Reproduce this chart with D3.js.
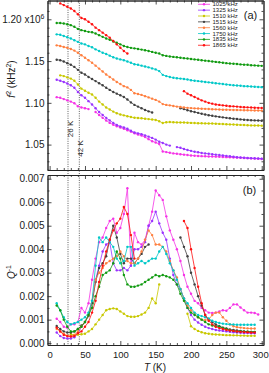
<!DOCTYPE html>
<html>
<head>
<meta charset="utf-8">
<script src="https://cdn.jsdelivr.net/npm/d3@7"></script>
<style>
  body { margin: 0; background: #fff; }
  text { font-family: "Liberation Sans", Arial, sans-serif; fill: #1a1a1a; }
</style>
</head>
<body>
<div id="chart"></div>
<script>
// series labels and colours
var freqs = ["1025 kHz", "1325 kHz", "1510 kHz", "1515 kHz", "1560 kHz", "1750 kHz", "1835 kHz", "1865 kHz"];
var colors = ["#f533e6", "#9933ff", "#c8c800", "#404040", "#ff7f3f", "#00c8c8", "#109a10", "#ff1010"];

// temperatures (K) for panel (a)
var tempA = [10,15,20,25,30,35,40,45,50,55,
             60,65,70,75,80,85,90,95,100,105,
             110,115,120,125,130,135,140,145,150,155,
             160,165,170,175,180,185,190,195,200,205,
             210,215,220,225,230,235,240,245,250,255,
             260,265,270,275,280,285,290,295,300];

// f^2 in units of 1e6 kHz^2
var f1025 = [1.1068,1.1060,1.1045,1.1030,1.1015,1.0995,1.0960,1.0945,1.0935,1.0925,
             null,1.0890,1.0855,1.0820,1.0789,1.0760,1.0738,1.0720,1.0705,1.0690,
             1.0672,1.0655,1.0635,1.0620,1.0608,1.0590,1.0565,1.0540,1.0525,1.0508,
             1.0418,1.0410,1.0402,1.0395,1.0390,1.0385,1.0380,1.0375,1.0370,1.0367,
             1.0364,1.0362,1.0360,1.0358,1.0357,1.0356,1.0354,1.0352,1.0350,1.0348,
             1.0346,1.0344,1.0342,1.0340,1.0338,1.0335,1.0332,1.0330,1.0328];
var f1325 = [1.1277,1.1265,1.1250,1.1232,1.1210,1.1180,1.1130,1.1090,1.1060,1.1020,
             1.0980,1.0935,1.0890,1.0855,1.0820,1.0790,1.0760,1.0735,1.0718,1.0705,
             1.0690,1.0665,1.0645,1.0635,1.0625,1.0610,1.0595,1.0580,1.0560,1.0535,
             1.0520,1.0500,1.0488,null,1.0470,1.0462,1.0448,1.0435,1.0425,1.0415,
             1.0408,1.0400,1.0395,1.0390,1.0385,1.0380,1.0375,1.0370,1.0365,1.0360,
             1.0355,1.0350,1.0346,1.0343,1.0340,1.0338,1.0336,1.0334,1.0332];
var f1510 = [null,1.1329,1.1320,1.1305,1.1290,1.1265,1.1220,1.1170,1.1145,1.1120,
             1.1100,1.1060,1.1015,1.0980,1.0945,1.0920,1.0895,1.0875,1.0860,1.0850,
             1.0840,1.0830,1.0822,1.0818,1.0815,1.0810,1.0805,1.0800,1.0795,1.0780,
             1.0758,1.0768,1.0770,1.0768,1.0766,1.0765,1.0764,1.0762,1.0760,1.0758,
             1.0756,1.0755,1.0754,1.0753,1.0752,1.0750,1.0748,1.0746,1.0744,1.0742,
             1.0740,1.0738,1.0736,1.0734,1.0732,1.0730,1.0729,1.0728,1.0727];
var f1515 = [1.1516,1.1510,1.1495,1.1475,1.1455,1.1430,1.1395,1.1360,1.1340,1.1310,
             1.1285,1.1260,1.1235,1.1210,1.1180,1.1155,1.1130,1.1110,1.1090,1.1070,
             1.1040,1.1005,1.0975,1.0955,1.0935,1.0915,1.0898,1.0885,null,null,
             null,null,null,null,null,1.0935,1.0925,1.0912,1.0900,1.0890,
             1.0880,1.0870,1.0860,1.0852,1.0845,1.0838,1.0832,1.0826,1.0820,1.0815,
             1.0810,1.0806,1.0802,1.0798,1.0795,1.0792,1.0790,1.0788,1.0786];
var f1560 = [1.1688,1.1680,1.1668,1.1660,1.1645,1.1625,1.1600,1.1570,1.1540,1.1510,
             1.1480,1.1445,1.1410,1.1375,1.1340,1.1310,1.1280,1.1250,1.1225,1.1200,
             1.1185,1.1155,1.1115,1.1105,1.1095,1.1080,1.1065,1.1050,1.1035,1.1015,
             1.0985,1.0975,1.0970,1.0962,1.0955,1.0950,1.0945,1.0940,1.0937,1.0934,
             1.0932,1.0930,1.0928,1.0926,1.0924,1.0922,1.0920,1.0918,1.0917,1.0916,
             1.0915,1.0914,1.0913,1.0912,1.0911,1.0910,1.0909,1.0908,1.0907];
var f1750 = [1.1820,1.1815,1.1800,1.1785,1.1770,1.1750,1.1730,1.1710,1.1700,1.1680,
             1.1665,1.1640,1.1620,1.1600,1.1585,1.1565,1.1545,1.1530,1.1520,1.1510,
             1.1495,1.1480,1.1462,1.1455,1.1445,1.1435,1.1425,1.1412,1.1400,1.1380,
             1.1335,1.1320,1.1310,1.1300,1.1295,1.1290,1.1285,1.1280,1.1270,1.1265,
             1.1260,1.1255,1.1250,1.1245,1.1240,1.1235,1.1230,1.1225,1.1220,1.1215,
             1.1210,1.1207,1.1205,1.1200,1.1198,1.1195,1.1192,1.1190,1.1188];
var f1835 = [1.1956,1.1955,1.1950,1.1940,1.1930,1.1910,1.1885,1.1870,1.1860,1.1850,
             1.1845,1.1830,1.1810,1.1790,1.1770,1.1755,1.1735,1.1720,1.1700,1.1680,
             1.1668,1.1658,1.1652,1.1645,1.1637,1.1630,1.1620,1.1610,1.1600,1.1590,
             1.1570,1.1562,1.1555,1.1550,1.1545,1.1540,1.1535,1.1530,1.1525,1.1520,
             1.1515,1.1510,1.1505,1.1500,1.1495,1.1490,1.1485,1.1480,1.1475,1.1470,
             1.1468,1.1465,1.1460,1.1457,1.1455,1.1450,1.1448,1.1445,1.1443];
var f1865 = [null,1.2190,1.2170,1.2150,1.2130,1.2100,1.2060,1.2015,1.2000,1.1970,
             1.1940,1.1900,1.1870,1.1840,1.1810,1.1780,1.1740,1.1700,1.1660,1.1620,
             1.1590,null,null,null,null,null,null,null,null,null,
             null,null,null,null,null,null,1.1140,1.1110,1.1090,1.1070,
             1.1050,1.1030,1.1015,1.1000,1.0990,1.0980,1.0975,1.0970,1.0965,1.0960,
             1.0958,1.0955,1.0950,1.0948,1.0946,1.0944,1.0942,1.0940,1.0938];

// temperatures (K) for panel (b)
var tempB = [10,15,20,25,30,35,40,45,50,55,
             60,65,70,75,80,85,90,95,100,105,
             110,115,120,125,130,135,140,145,150,155,
             160,165,170,175,180,185,190,195,200,205,
             210,215,220,225,230,235,240,245,250,255,
             260,265,270,275,280,285,290,295];

// internal friction Q^-1
var q1025 = [0.00104,0.00090,0.00070,0.00065,0.00080,0.00080,0.00090,0.00150,0.00130,0.00170,
             0.00270,0.00360,0.00430,0.00450,0.00490,0.00520,0.00530,0.00470,0.00490,0.00550,
             0.00660,0.00330,0.00470,0.00430,0.00420,0.00440,0.00500,0.00560,0.00650,0.00630,
             0.00610,0.00540,0.00480,0.00440,0.00400,0.00350,0.00290,0.00240,0.00210,0.00180,
             0.00170,0.00150,0.00140,0.00130,0.00128,0.00130,0.00135,0.00140,0.00138,0.00150,
             0.00165,0.00165,0.00152,0.00140,0.00130,0.00130,0.00128,0.00122];
var q1325 = [0.00045,0.00030,0.00022,0.00020,0.00020,0.00025,0.00040,0.00070,0.00090,0.00120,
             0.00180,0.00270,0.00330,0.00390,0.00420,0.00430,0.00340,0.00310,0.00310,0.00320,
             0.00310,0.00330,0.00400,0.00400,0.00410,0.00430,0.00500,0.00520,0.00560,0.00510,
             0.00470,0.00440,0.00360,0.00290,0.00250,0.00230,0.00190,0.00150,0.00120,0.00100,
             0.00088,0.00078,0.00070,0.00064,0.00060,0.00056,0.00054,0.00052,0.00050,0.00048,
             0.00046,0.00045,0.00044,0.00043,0.00043,0.00042,0.00042,null];
var q1510 = [null,null,null,null,0.00038,0.00035,0.00036,0.00038,0.00040,0.00050,
             0.00060,0.00080,0.00100,0.00120,0.00140,0.00145,0.00148,0.00145,0.00135,0.00125,
             0.00115,0.00112,0.00112,0.00115,0.00122,0.00130,0.00150,0.00190,0.00170,0.00250,
             null,null,null,null,null,null,null,0.00125,0.00072,0.00060,
             0.00052,0.00046,0.00042,0.00040,0.00038,0.00037,0.00036,0.00035,0.00034,0.00034,
             0.00033,0.00033,0.00032,0.00032,0.00031,0.00031,0.00031,null];
var q1515 = [0.00073,0.00060,0.00050,0.00045,0.00045,0.00050,0.00060,0.00075,0.00090,0.00115,
             0.00170,0.00260,0.00320,0.00340,0.00370,0.00440,0.00500,0.00450,0.00380,0.00340,
             0.00360,0.00360,0.00340,0.00360,0.00380,0.00410,0.00420,null,null,null,
             null,null,null,null,null,0.00450,0.00410,0.00370,0.00300,0.00250,
             0.00200,0.00160,0.00120,0.00100,0.00090,0.00080,0.00072,0.00066,0.00062,0.00058,
             0.00056,0.00054,0.00052,0.00050,0.00049,0.00048,0.00047,null];
var q1560 = [0.00060,0.00050,0.00040,0.00032,0.00030,0.00035,0.00050,0.00070,0.00090,0.00120,
             0.00180,0.00270,0.00300,0.00320,0.00340,0.00350,0.00360,0.00370,0.00390,0.00370,
             0.00350,0.00340,0.00340,0.00360,0.00390,0.00440,0.00480,0.00460,0.00420,0.00420,
             0.00410,0.00390,0.00350,0.00310,0.00280,0.00230,0.00190,0.00160,0.00140,0.00125,
             0.00110,0.00100,0.00098,0.00100,0.00120,0.00130,0.00130,0.00110,0.00095,0.00080,
             0.00072,0.00068,0.00066,0.00064,0.00063,0.00062,0.00062,null];
var q1750 = [0.00170,0.00140,0.00110,0.00090,0.00080,0.00085,0.00090,0.00100,0.00110,0.00130,
             0.00180,0.00330,0.00450,0.00430,0.00450,0.00430,0.00410,0.00360,0.00340,0.00350,
             0.00410,0.00410,0.00330,0.00340,0.00350,0.00340,0.00350,0.00360,0.00360,0.00390,
             0.00410,0.00380,0.00340,0.00310,0.00270,0.00230,0.00190,0.00170,0.00150,0.00130,
             0.00120,0.00115,0.00110,0.00105,0.00095,0.00090,0.00086,0.00083,0.00081,0.00080,
             0.00079,0.00078,0.00078,0.00078,0.00078,0.00078,0.00078,null];
var q1835 = [0.00160,0.00140,0.00100,0.00070,0.00050,0.00050,0.00060,0.00070,0.00090,0.00120,
             0.00150,0.00200,0.00240,0.00290,0.00300,0.00310,0.00340,0.00390,0.00360,0.00290,
             0.00250,0.00240,0.00240,0.00245,0.00250,0.00260,0.00270,0.00280,0.00290,0.00285,
             0.00290,0.00285,0.00280,0.00270,0.00250,0.00210,0.00180,0.00150,0.00130,0.00120,
             0.00110,0.00100,0.00090,0.00080,0.00075,0.00072,0.00070,0.00065,0.00060,0.00055,
             0.00052,0.00050,0.00050,0.00049,0.00049,0.00048,0.00048,null];
var q1865 = [0.00066,0.00050,0.00035,0.00030,0.00028,0.00030,0.00042,0.00050,0.00070,0.00090,
             0.00130,0.00180,0.00260,0.00330,0.00390,0.00440,0.00480,0.00510,0.00530,0.00580,
             0.00550,0.00460,0.00360,null,null,null,null,null,null,null,
             null,null,null,null,null,null,0.00520,0.00490,0.00400,0.00320,
             0.00240,0.00170,0.00120,0.00095,0.00080,0.00070,0.00064,0.00060,0.00056,0.00054,
             0.00052,0.00050,0.00048,0.00047,0.00046,0.00045,0.00045,null];

// tick values
var xTicks = [0, 50, 100, 150, 200, 250, 300];
var fTicks = [1.05, 1.10, 1.15, 1.20];
var qTicks = [0, 0.001, 0.002, 0.003, 0.004, 0.005, 0.006, 0.007];
var markT = [26, 42];

var fSeries = [f1025, f1325, f1510, f1515, f1560, f1750, f1835, f1865];
var qSeries = [q1025, q1325, q1510, q1515, q1560, q1750, q1835, q1865];

var W = 269, H = 373;
var left = 47.5, right = 263.5;
var aTop = 0.5, aBot = 170, bTop = 175, bBot = 345;

var svg = d3.select("#chart").append("svg")
    .attr("width", W)
    .attr("height", H);

var x = d3.scaleLinear().domain([-3, 302.5]).range([left, right]);
var yA = d3.scaleLinear().domain([1.0196, 1.2225]).range([aBot, aTop]);
var yB = d3.scaleLinear().domain([-0.00008, 0.00716]).range([bBot, bTop]);

var xMinor = d3.range(0, 301, 10).filter(d => d % 50 !== 0);
var fMinor = d3.range(1.02, 1.225, 0.01).filter(d => Math.abs(d * 20 - Math.round(d * 20)) > 1e-6);
var qMinor = d3.range(0.0005, 0.0071, 0.001);

// frame with inward ticks
function drawFrame(y, top, bot, major, minor, fmt, showX) {
    var g = svg.append("g").attr("class", "frame");
    function ax(axis, tr) {
        var a = g.append("g").attr("transform", tr).call(axis);
        a.selectAll("path.domain").attr("stroke", "#222").attr("stroke-width", 0.9);
        a.selectAll("line").attr("stroke", "#222").attr("stroke-width", 0.8);
        a.selectAll("text").style("font-size", "10px").attr("fill", "#1a1a1a")
            .style("font-family", "'Liberation Sans', Arial, sans-serif");
        return a;
    }
    // left
    var la = ax(d3.axisLeft(y).tickValues(major).tickSize(-4).tickSizeOuter(0).tickPadding(3).tickFormat(fmt),
        "translate(" + left + ",0)");
    ax(d3.axisLeft(y).tickValues(minor).tickSize(-2).tickSizeOuter(0).tickFormat(""), "translate(" + left + ",0)");
    // right
    ax(d3.axisRight(y).tickValues(major).tickSize(-4).tickSizeOuter(0).tickFormat(""), "translate(" + right + ",0)");
    ax(d3.axisRight(y).tickValues(minor).tickSize(-2).tickSizeOuter(0).tickFormat(""), "translate(" + right + ",0)");
    // bottom
    var ba = ax(d3.axisBottom(x).tickValues(xTicks).tickSize(-4).tickSizeOuter(0).tickPadding(6)
        .tickFormat(showX ? d3.format("d") : ""), "translate(0," + bot + ")");
    ba.selectAll("text").style("font-size", "9.5px");
    ba.selectAll("text").filter(d => d === 300).attr("dx", -1.5);
    ax(d3.axisBottom(x).tickValues(xMinor).tickSize(-2).tickSizeOuter(0).tickFormat(""), "translate(0," + bot + ")");
    // top
    ax(d3.axisTop(x).tickValues(xTicks).tickSize(-4).tickSizeOuter(0).tickFormat(""), "translate(0," + top + ")");
    ax(d3.axisTop(x).tickValues(xMinor).tickSize(-2).tickSizeOuter(0).tickFormat(""), "translate(0," + top + ")");
    return la;
}

var laA = drawFrame(yA, aTop, aBot, fTicks, fMinor,
    d => Math.abs(d - 1.2) < 1e-9 ? "1.20 x10" : d3.format(".2f")(d), false);
laA.selectAll("text").filter(d => Math.abs(d - 1.2) < 1e-9)
    .append("tspan").attr("dy", -4).style("font-size", "7px").text("6");

drawFrame(yB, bTop, bBot, qTicks, qMinor, d3.format(".3f"), true);

// dotted lines at 26 K and 42 K
svg.selectAll("line.mark")
    .data(markT)
    .enter()
    .append("line")
    .attr("class", "mark")
    .attr("x1", d => x(d)).attr("x2", d => x(d))
    .attr("y1", aTop).attr("y2", bBot)
    .attr("stroke", "#333")
    .attr("stroke-width", 0.8)
    .attr("stroke-dasharray", "1,1.3");

svg.append("text")
    .attr("transform", "translate(" + (x(26) + 4.8) + ",129) rotate(-90)")
    .attr("text-anchor", "middle")
    .style("font-size", "8px")
    .text("26 K");
svg.append("text")
    .attr("transform", "translate(" + (x(42) + 4) + ",148.5) rotate(-90)")
    .attr("text-anchor", "middle")
    .style("font-size", "8px")
    .text("42 K");

// draw series
function drawSeries(temps, arrays, y) {
    var g = svg.append("g");
    arrays.forEach((arr, i) => {
        var pts = temps.map((t, j) => ({t: t, v: arr[j]}));
        var line = d3.line()
            .defined(d => d.v != null)
            .x(d => x(d.t))
            .y(d => y(d.v));
        g.append("path")
            .datum(pts)
            .attr("d", line)
            .attr("fill", "none")
            .attr("stroke", colors[i])
            .attr("stroke-width", 0.8);
        g.selectAll("circle.s" + i)
            .data(pts.filter(d => d.v != null))
            .enter()
            .append("circle")
            .attr("class", "s" + i)
            .attr("cx", d => x(d.t))
            .attr("cy", d => y(d.v))
            .attr("r", 1.2)
            .attr("fill", colors[i]);
    });
}

drawSeries(tempA, fSeries, yA);
drawSeries(tempB, qSeries, yB);

// legend
var legend = svg.append("g").attr("transform", "translate(198,4.3)");
freqs.forEach((f, i) => {
    legend.append("line")
        .attr("x1", 0).attr("x2", 12)
        .attr("y1", i * 5.85).attr("y2", i * 5.85)
        .attr("stroke", colors[i]).attr("stroke-width", 0.8);
    legend.append("circle")
        .attr("cx", 6).attr("cy", i * 5.85).attr("r", 1.2)
        .attr("fill", colors[i]);
    legend.append("text")
        .attr("x", 14.5)
        .attr("y", i * 5.85 + 2)
        .style("font-size", "6px")
        .text(f);
});

// panel labels
svg.append("text").attr("x", 250.5).attr("y", 18.5).attr("text-anchor", "middle")
    .style("font-size", "11px").text("(a)");
svg.append("text").attr("x", 249.5).attr("y", 194).attr("text-anchor", "middle")
    .style("font-size", "11px").text("(b)");

// axis titles
var ta = svg.append("text")
    .attr("transform", "translate(14.5,79) rotate(-90)")
    .attr("text-anchor", "middle")
    .style("font-size", "10px");
ta.append("tspan").style("font-style", "italic").text("f");
ta.append("tspan").attr("dy", -4).style("font-size", "7px").text("2");
ta.append("tspan").attr("dy", 4).text(" (kHz");
ta.append("tspan").attr("dy", -4).style("font-size", "7px").text("2");
ta.append("tspan").attr("dy", 4).text(")");

var tb = svg.append("text")
    .attr("transform", "translate(14.5,272) rotate(-90)")
    .attr("text-anchor", "middle")
    .style("font-size", "10px");
tb.append("tspan").style("font-style", "italic").text("Q");
tb.append("tspan").attr("dy", -4).style("font-size", "7px").text("-1");

var tx = svg.append("text")
    .attr("x", 155).attr("y", 371)
    .attr("text-anchor", "middle")
    .style("font-size", "10px");
tx.append("tspan").style("font-style", "italic").text("T");
tx.append("tspan").text("  (K)");
</script>
</body>
</html>
